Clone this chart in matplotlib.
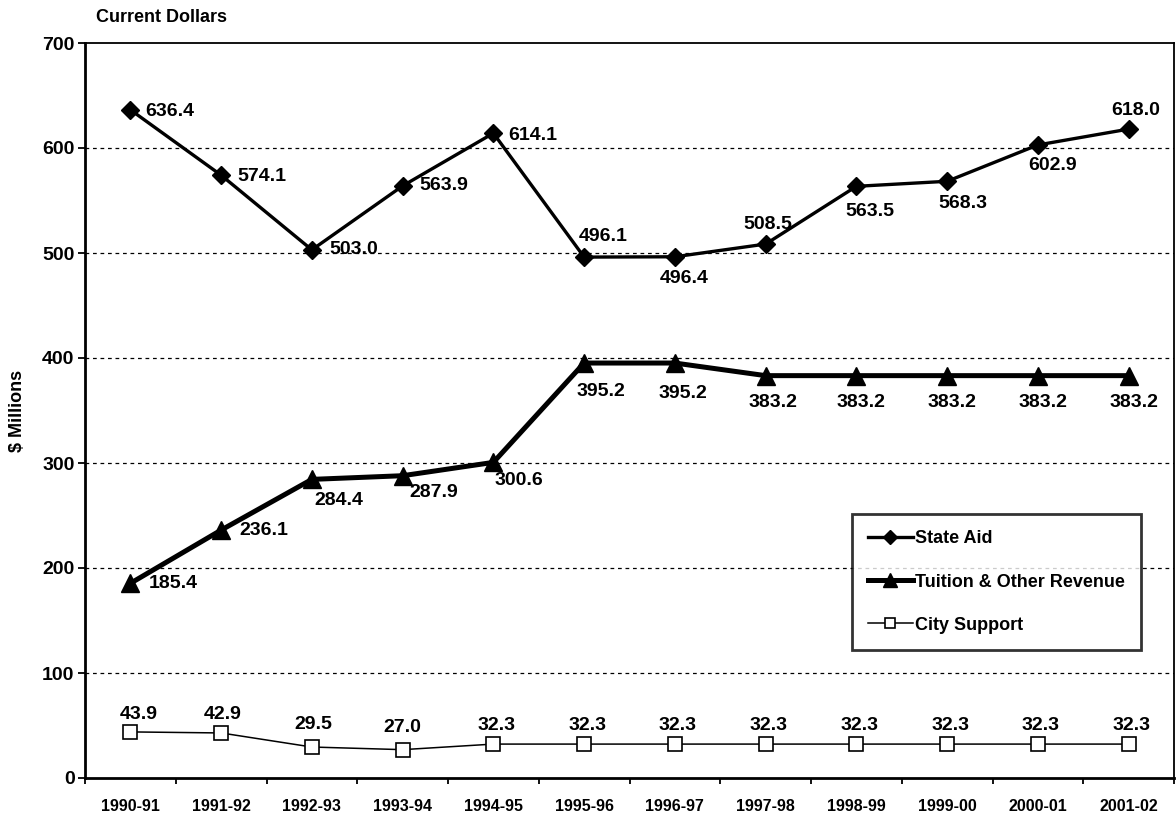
import numpy as np
from matplotlib import pyplot as plt

plt.rcParams['font.family'] = ['Liberation Sans', 'DejaVu Sans']
plt.rcParams['font.weight'] = 'bold'

years = ['1990-91', '1991-92', '1992-93', '1993-94', '1994-95', '1995-96',
         '1996-97', '1997-98', '1998-99', '1999-00', '2000-01', '2001-02']
state_aid = [636.4, 574.1, 503.0, 563.9, 614.1, 496.1, 496.4, 508.5, 563.5, 568.3, 602.9, 618.0]
tuition = [185.4, 236.1, 284.4, 287.9, 300.6, 395.2, 395.2, 383.2, 383.2, 383.2, 383.2, 383.2]
city = [43.9, 42.9, 29.5, 27.0, 32.3, 32.3, 32.3, 32.3, 32.3, 32.3, 32.3, 32.3]

# label placement (ha, dx px, dy px) relative to each marker
state_off = [('left', 15, -2), ('left', 16, -1), ('left', 18, 0), ('left', 17, 0), ('left', 15, -2),
             ('center', 19, 21), ('center', 9, -22), ('center', 2, 20), ('center', 13, -25),
             ('center', 16, -22), ('center', 15, -21), ('center', 7, 19)]
tuition_off = [('left', 18, 0), ('left', 18, 0), ('center', 27, -21), ('center', 31, -17),
               ('center', 26, -18), ('center', 17, -28), ('center', 8, -30), ('center', 7, -27),
               ('center', 5, -27), ('center', 5, -27), ('center', 5, -27), ('center', 5, -27)]
city_off = [('center', 8, 17), ('center', 2, 18), ('center', 1, 23), ('center', 0, 22)] + \
           [('center', 3, 19)] * 8

W, H = 1176, 814
fig = plt.figure(figsize=(W / 100, H / 100), dpi=100)
ax = fig.add_axes([85 / W, 36 / H, 1089 / W, 735 / H])

x = np.arange(len(years))
ax.plot(x, state_aid, color='black', lw=2.4, marker='D', ms=9, label='State Aid', zorder=4)
ax.plot(x, tuition, color='black', lw=3.6, marker='^', ms=13, label='Tuition & Other Revenue', zorder=4)
ax.plot(x, city, color='black', lw=1.1, marker='s', ms=9.5, mfc='white', mew=1.2,
        label='City Support', zorder=4)


def put_labels(vals, offs):
    for i, (v, (ha, dx, dy)) in enumerate(zip(vals, offs)):
        ax.annotate(f'{v:.1f}', (x[i], v), xytext=(dx, dy), textcoords='offset pixels',
                    ha=ha, va='center', fontsize=14, fontweight='bold', zorder=5)


put_labels(state_aid, state_off)
put_labels(tuition, tuition_off)
put_labels(city, city_off)

ax.set_xlim(-0.5, 11.5)
ax.set_ylim(0, 700)
ax.set_yticks(range(0, 701, 100))
ax.set_xticks(x)
ax.set_xticklabels(years, fontsize=11.5, fontweight='bold')
ax.set_xticks(np.arange(-0.5, 12, 1), minor=True)
ax.tick_params(axis='x', which='major', length=0, pad=15)
ax.tick_params(axis='x', which='minor', length=4.5, width=1.3, direction='out')
ax.tick_params(axis='y', length=5, width=1.3, direction='out', pad=2.5, labelsize=14)
for lbl in ax.get_yticklabels():
    lbl.set_fontweight('bold')

for yv in range(100, 700, 100):
    ax.axhline(yv, color='black', lw=0.9, ls=(0, (3, 3)), zorder=1)

for s in ax.spines.values():
    s.set_linewidth(1.3)
ax.spines['left'].set_linewidth(2)
ax.spines['bottom'].set_linewidth(2)

leg = ax.legend(loc='upper left', bbox_to_anchor=(0.704, 0.359), frameon=True, fancybox=False,
                edgecolor='black', handlelength=2.5, handletextpad=0.1, labelspacing=1.45,
                borderpad=0.9, borderaxespad=0, markerscale=0.8,
                prop={'family': 'Liberation Sans', 'weight': 'bold', 'size': 13})
leg.get_frame().set_linewidth(2)
leg.set_zorder(6)

fig.text(162 / W, 1 - 18 / H, 'Current Dollars', ha='center', va='center', fontsize=13,
         fontweight='bold')
fig.text(17 / W, 1 - 411 / H, '$ Millions', ha='center', va='center', rotation=90,
         fontsize=13, fontweight='bold')

fig.savefig('out.png', dpi=100)
